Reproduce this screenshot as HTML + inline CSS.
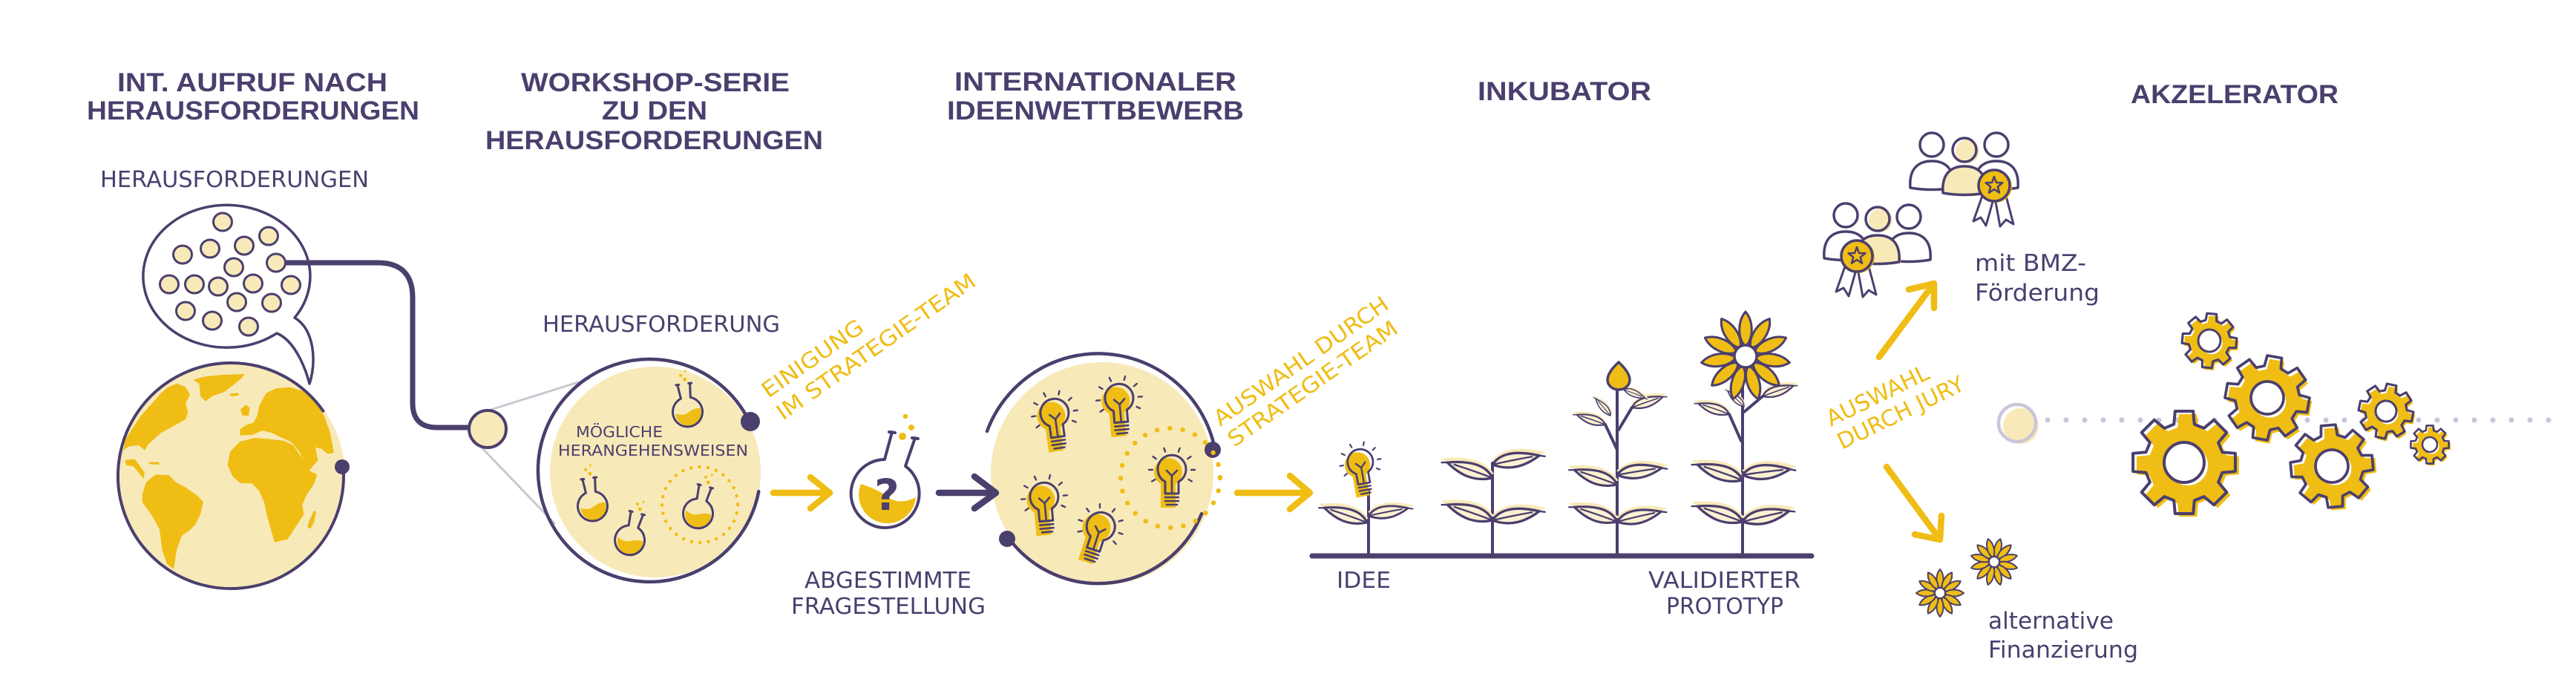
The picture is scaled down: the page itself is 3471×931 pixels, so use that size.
<!DOCTYPE html>
<html><head><meta charset="utf-8"><style>html,body{margin:0;padding:0;background:#fff}svg{display:block}</style></head><body>
<svg xmlns="http://www.w3.org/2000/svg" xmlns:xlink="http://www.w3.org/1999/xlink" width="3471" height="931" viewBox="0 0 3471 931">
<defs>
<path id="gear" d="M73.4,-19.7 L98.5,-17.4 L98.5,17.4 L73.4,19.7 L65.8,38 L81.9,57.4 L57.4,81.9 L38,65.8 L19.7,73.4 L17.4,98.5 L-17.4,98.5 L-19.7,73.4 L-38,65.8 L-57.4,81.9 L-81.9,57.4 L-65.8,38 L-73.4,19.7 L-98.5,17.4 L-98.5,-17.4 L-73.4,-19.7 L-65.8,-38 L-81.9,-57.4 L-57.4,-81.9 L-38,-65.8 L-19.7,-73.4 L-17.4,-98.5 L17.4,-98.5 L19.7,-73.4 L38,-65.8 L57.4,-81.9 L81.9,-57.4 L65.8,-38 Z"/>
<g id="bulb">
 <circle cx="-5" cy="3" r="19" fill="#efbd14"/>
 <rect x="-15" y="14" width="20" height="37" fill="#efbd14"/>
 <path d="M-9,16 A19 19 0 1 1 9,16 L9,32 L-9,32 Z" fill="none" stroke="#4b3f6e" stroke-width="3" stroke-linejoin="round"/>
 <path d="M0,31 L0,8 M0,8 L-7,1 M0,8 L7,1 M-9,37 L9,37 M-9,42 L9,42 M-7,47 L7,47" fill="none" stroke="#4b3f6e" stroke-width="2.6" stroke-linecap="round"/>
 <path d="M-26,0 L-31,0 M-21.3,-14.9 L-25.4,-17.8 M-8.9,-24.4 L-10.6,-29.1 M8.9,-24.4 L10.6,-29.1 M21.3,-14.9 L25.4,-17.8 M26,0 L31,0 M22.5,13 L26.8,15.5 M-22.5,13 L-26.8,15.5" stroke="#4b3f6e" stroke-width="2.4" stroke-linecap="round"/>
</g>
<g id="flask">
 <path d="M-17,0 Q-8,5 0,1 Q9,-4 17,-3 A17.3 17.3 0 1 1 -17,0 Z" fill="#efbd14"/>
 <path d="M-9,-38 L-7,-19 A20 20 0 1 0 6,-19 L8,-38 M-11,-38 L-7,-38 M6,-38 L10,-38" fill="none" stroke="#4b3f6e" stroke-width="3" stroke-linecap="round" stroke-linejoin="round"/>
 <circle cx="2" cy="-44" r="2.5" fill="#efbd14"/>
 <circle cx="-3" cy="-50" r="2" fill="#efbd14"/>
 <circle cx="4" cy="-55" r="1.5" fill="#efbd14"/>
</g>
<g id="leaf">
 <path d="M2,-6 C-10,-24 -32,-32 -72,-28 C-54,-10 -30,2 2,-6Z" fill="#f8e9b9"/>
 <path d="M0,0 C-8,-17 -28,-25 -64,-22 C-48,-6 -28,6 0,0Z" fill="#fbf1d2" stroke="#4b3f6e" stroke-width="3.5" stroke-linejoin="round"/>
 <path d="M0,0 Q-26,-10 -54,-19" fill="none" stroke="#4b3f6e" stroke-width="2.5" stroke-linecap="round"/>
 <path d="M-64,-22 L-72,-22" fill="none" stroke="#4b3f6e" stroke-width="2.5" stroke-linecap="round"/>
</g>
<path id="petal" d="M0,-13 C11,-24 11,-47 0,-60 C-11,-47 -11,-24 0,-13Z" fill="#efbd14" stroke="#4b3f6e" stroke-width="3" stroke-linejoin="round"/>
<path id="spetal" d="M0,-6 C6,-12 6,-25 0,-32 C-6,-25 -6,-12 0,-6Z" fill="#efbd14" stroke="#4b3f6e" stroke-width="2" stroke-linejoin="round"/>
<g id="person">
 <path d="M-29,58 C-31,32 -18,22 0,22 C18,22 31,32 29,58 Q0,63 -29,58Z" fill="#fff" stroke="#4b3f6e" stroke-width="3.5" stroke-linejoin="round"/>
 <circle r="16" fill="#fff" stroke="#4b3f6e" stroke-width="3.5"/>
</g>
<g id="personY">
 <path d="M-26,60 C-28,34 -15,24 3,24 C21,24 33,34 31,60 Q3,65 -26,60Z" fill="#f8e9b9"/>
 <circle cx="4" cy="2" r="16" fill="#f8e9b9"/>
 <path d="M-29,58 C-31,32 -18,22 0,22 C18,22 31,32 29,58 Q0,63 -29,58Z" fill="#f8e9b9" stroke="#4b3f6e" stroke-width="3.5" stroke-linejoin="round"/>
 <circle r="16" fill="none" stroke="#4b3f6e" stroke-width="3.5"/>
</g>
<g id="medal">
 <path d="M-16,14 L-28,48 L-18,43 L-11,54 L-2,22 Z M16,14 L26,52 L16,46 L8,55 L2,22 Z" fill="#fff" stroke="#4b3f6e" stroke-width="3" stroke-linejoin="round"/>
 <circle cx="2" cy="1" r="22" fill="#efbd14"/>
 <circle r="21" fill="#efbd14" stroke="#4b3f6e" stroke-width="3.5"/>
 <path d="M0,-12 L2.94,-4.05 L11.41,-3.71 L4.76,1.55 L7.05,9.71 L0,5 L-7.05,9.71 L-4.76,1.55 L-11.41,-3.71 L-2.94,-4.05 Z" fill="none" stroke="#4b3f6e" stroke-width="2.5" stroke-linejoin="round"/>
</g>
<g id="sflower">
 <use xlink:href="#spetal"/><use xlink:href="#spetal" transform="rotate(30)"/><use xlink:href="#spetal" transform="rotate(60)"/><use xlink:href="#spetal" transform="rotate(90)"/><use xlink:href="#spetal" transform="rotate(120)"/><use xlink:href="#spetal" transform="rotate(150)"/><use xlink:href="#spetal" transform="rotate(180)"/><use xlink:href="#spetal" transform="rotate(210)"/><use xlink:href="#spetal" transform="rotate(240)"/><use xlink:href="#spetal" transform="rotate(270)"/><use xlink:href="#spetal" transform="rotate(300)"/><use xlink:href="#spetal" transform="rotate(330)"/>
 <circle r="7" fill="#fff" stroke="#4b3f6e" stroke-width="2"/>
</g>
<clipPath id="globeclip"><circle cx="311" cy="641" r="151"/></clipPath>
</defs>

<!-- TITLES -->
<g font-family="'Liberation Sans', Arial, sans-serif" font-weight="bold" font-size="35" fill="#4b3f6e">
 <text x="158" y="123" textLength="364" lengthAdjust="spacingAndGlyphs">INT. AUFRUF NACH</text>
 <text x="117" y="161" textLength="448" lengthAdjust="spacingAndGlyphs">HERAUSFORDERUNGEN</text>
 <text x="702" y="123" textLength="362" lengthAdjust="spacingAndGlyphs">WORKSHOP-SERIE</text>
 <text x="811" y="161" textLength="142" lengthAdjust="spacingAndGlyphs">ZU DEN</text>
 <text x="654" y="201" textLength="455" lengthAdjust="spacingAndGlyphs">HERAUSFORDERUNGEN</text>
 <text x="1286" y="122" textLength="380" lengthAdjust="spacingAndGlyphs">INTERNATIONALER</text>
 <text x="1276" y="161" textLength="400" lengthAdjust="spacingAndGlyphs">IDEENWETTBEWERB</text>
 <text x="1991" y="135" textLength="234" lengthAdjust="spacingAndGlyphs">INKUBATOR</text>
 <text x="2871" y="139" textLength="280" lengthAdjust="spacingAndGlyphs">AKZELERATOR</text>
</g>

<!-- LABELS -->
<g font-family="'DejaVu Sans', 'Liberation Sans', sans-serif" font-size="30" fill="#4b3f6e">
 <text x="135" y="252" textLength="362" lengthAdjust="spacingAndGlyphs">HERAUSFORDERUNGEN</text>
 <text x="731" y="447" textLength="320" lengthAdjust="spacingAndGlyphs">HERAUSFORDERUNG</text>
 <text x="1084" y="792" textLength="225" lengthAdjust="spacingAndGlyphs">ABGESTIMMTE</text>
 <text x="1066" y="827" textLength="262" lengthAdjust="spacingAndGlyphs">FRAGESTELLUNG</text>
 <text x="1801" y="792" textLength="73" lengthAdjust="spacingAndGlyphs">IDEE</text>
 <text x="2221" y="792" textLength="205" lengthAdjust="spacingAndGlyphs">VALIDIERTER</text>
 <text x="2245" y="827" textLength="158" lengthAdjust="spacingAndGlyphs">PROTOTYP</text>
 <text x="2661" y="365" font-size="31" textLength="150" lengthAdjust="spacingAndGlyphs">mit BMZ-</text>
 <text x="2661" y="405" font-size="31" textLength="168" lengthAdjust="spacingAndGlyphs">Förderung</text>
 <text x="2679" y="847" font-size="31" textLength="169" lengthAdjust="spacingAndGlyphs">alternative</text>
 <text x="2679" y="886" font-size="31" textLength="202" lengthAdjust="spacingAndGlyphs">Finanzierung</text>
</g>

<!-- YELLOW ROTATED LABELS -->
<g font-family="'DejaVu Sans', 'Liberation Sans', sans-serif" font-size="29" fill="#efbd14">
 <text transform="translate(1035,537) rotate(-35)" textLength="160" lengthAdjust="spacingAndGlyphs">EINIGUNG</text>
 <text transform="translate(1055,567) rotate(-35)" textLength="320" lengthAdjust="spacingAndGlyphs">IM STRATEGIE-TEAM</text>
 <text transform="translate(1644,575) rotate(-35)" textLength="280" lengthAdjust="spacingAndGlyphs">AUSWAHL DURCH</text>
 <text transform="translate(1663,603) rotate(-35)" textLength="272" lengthAdjust="spacingAndGlyphs">STRATEGIE-TEAM</text>
 <text transform="translate(2467,575) rotate(-26)" font-size="30" textLength="150" lengthAdjust="spacingAndGlyphs">AUSWAHL</text>
 <text transform="translate(2482,606) rotate(-26)" font-size="30" textLength="186" lengthAdjust="spacingAndGlyphs">DURCH JURY</text>
</g>

<!-- SECTION 1: speech bubble + globe -->
<path d="M384,354 L509,354 Q556,354 556,401 L556,543 Q556,576 589,576 L640,576" fill="none" stroke="#4b3f6e" stroke-width="7" stroke-linecap="round"/>
<path d="M397,428 C425,445 426,490 417,517 C410,490 395,458 373,449 A112.5 96 0 1 1 397,428 Z" fill="#fff" stroke="#4b3f6e" stroke-width="3.5" stroke-linejoin="round"/>
<path d="M384,354 L440,354" stroke="#4b3f6e" stroke-width="7"/>
<g fill="#f8e9b9" stroke="#4b3f6e" stroke-width="3">
 <ellipse cx="300" cy="299" rx="12.5" ry="12"/><ellipse cx="362" cy="318" rx="12.5" ry="12"/>
 <ellipse cx="246" cy="343" rx="12.5" ry="12"/><ellipse cx="283" cy="335" rx="12.5" ry="12"/>
 <ellipse cx="329" cy="331" rx="12.5" ry="12"/><ellipse cx="372" cy="354" rx="12.5" ry="12"/>
 <ellipse cx="315" cy="360" rx="12.5" ry="12"/><ellipse cx="228" cy="383" rx="12.5" ry="12"/>
 <ellipse cx="262" cy="383" rx="12.5" ry="12"/><ellipse cx="294" cy="386" rx="12.5" ry="12"/>
 <ellipse cx="341" cy="382" rx="12.5" ry="12"/><ellipse cx="392" cy="384" rx="12.5" ry="12"/>
 <ellipse cx="319" cy="407" rx="12.5" ry="12"/><ellipse cx="366" cy="408" rx="12.5" ry="12"/>
 <ellipse cx="250" cy="419" rx="12.5" ry="12"/><ellipse cx="286" cy="432" rx="12.5" ry="12"/>
 <ellipse cx="335" cy="440" rx="12.5" ry="12"/>
</g>
<circle cx="313" cy="641" r="152" fill="#f8e9b9"/>
<g clip-path="url(#globeclip)">
<g transform="translate(150,480) scale(0.3333)" fill="#efbd14">
 <path d="M40,440 L50,380 L70,365 L110,360 L135,380 L150,355 L200,310 L255,280 L300,255 L310,225 L300,190 L318,155 L300,125 L265,110 L230,125 L200,150 L165,190 L120,240 L80,300 L55,340 Z"/>
 <path d="M55,420 L95,415 L120,450 L135,470 L130,495 L110,470 L90,445 L60,440 Z"/>
 <path d="M150,428 L195,428 L192,438 L155,436 Z"/>
 <path d="M330,95 L380,82 L450,75 L540,72 L525,90 L495,115 L455,145 L410,160 L380,182 L360,160 L355,110 Z"/>
 <path d="M478,152 L510,148 L518,158 L485,162 Z"/>
 <path d="M520,320 L520,295 L545,278 L575,268 L590,240 L598,200 L625,150 L665,130 L720,125 L775,140 L820,180 L860,240 L885,310 L900,390 L875,395 L850,375 L825,368 L835,420 L800,462 L785,440 L760,385 L725,345 L690,330 L650,310 L610,300 L570,318 Z"/>
 <path d="M522,215 L545,195 L560,210 L555,240 L530,240 Z"/>
 <path d="M470,440 L480,385 L520,345 L580,330 L640,335 L700,342 L735,360 L770,410 L800,462 L832,478 L820,515 L790,560 L772,600 L778,640 L745,690 L712,740 L660,752 L645,700 L628,640 L618,590 L598,545 L570,515 L520,512 L490,485 Z"/>
 <path d="M800,665 L818,625 L828,628 L820,670 L805,698 L793,690 Z"/>
 <path d="M125,560 L140,510 L178,478 L232,480 L262,510 L300,530 L350,565 L372,590 L360,640 L340,680 L315,705 L285,725 L265,780 L252,860 L225,840 L205,780 L195,700 L165,645 L125,590 Z"/>
</g>
</g>
<path d="M462.5,628.8 A152 152 0 1 1 435.5,553.8" fill="none" stroke="#4b3f6e" stroke-width="4" stroke-linecap="round"/>
<circle cx="461" cy="629" r="10" fill="#4b3f6e"/>

<!-- SECTION 2: workshop -->
<path d="M658,553 L795,510 M649,603 L748,706" stroke="#c9c7d1" stroke-width="3"/>
<circle cx="657" cy="578" r="25" fill="#f8e9b9" stroke="#4b3f6e" stroke-width="4"/>
<circle cx="883" cy="636" r="142" fill="#f8e9b9"/>
<path d="M1022.3,662.1 A150 150 0 1 1 1010.2,569" fill="none" stroke="#4b3f6e" stroke-width="4.5" stroke-linecap="round"/>
<circle cx="1011" cy="568" r="13" fill="#4b3f6e"/>
<g font-family="'DejaVu Sans', 'Liberation Sans', sans-serif" font-size="20.5" fill="#4b3f6e">
 <text x="776" y="589" textLength="117" lengthAdjust="spacingAndGlyphs">MÖGLICHE</text>
 <text x="752" y="614" textLength="256" lengthAdjust="spacingAndGlyphs">HERANGEHENSWEISEN</text>
</g>
<circle cx="943" cy="680" r="51" fill="none" stroke="#efbd14" stroke-width="4.5" stroke-linecap="round" stroke-dasharray="0 11.4"/>
<use xlink:href="#flask" transform="translate(927,555) rotate(-8)"/>
<use xlink:href="#flask" transform="translate(799,682) rotate(-8)"/>
<use xlink:href="#flask" transform="translate(849,728) rotate(15)"/>
<use xlink:href="#flask" transform="translate(941,692) rotate(15)"/>

<!-- arrow 1 + question flask -->
<path d="M1042,664 L1118,664 M1092,643 L1118,664 L1092,685" fill="none" stroke="#efbd14" stroke-width="8.5" stroke-linecap="round" stroke-linejoin="round"/>
<path d="M1160,652 Q1185,660 1200,672 Q1215,680 1234,670 A38.5 38.5 0 1 1 1160,652 Z" fill="#efbd14"/>
<path d="M1202,582 L1192,619 A46 46 0 1 0 1220,628 L1233,590 M1198,582 L1206,583 M1229,590 L1237,591" fill="none" stroke="#4b3f6e" stroke-width="4" stroke-linecap="round" stroke-linejoin="round"/>
<circle cx="1216" cy="588" r="5" fill="#efbd14"/>
<circle cx="1228" cy="576" r="4" fill="#efbd14"/>
<circle cx="1220" cy="561" r="3.2" fill="#efbd14"/>
<text x="1195" y="687" text-anchor="middle" font-family="'DejaVu Sans', sans-serif" font-weight="bold" font-size="58" fill="#4b3f6e">?</text>

<!-- SECTION 3: ideenwettbewerb -->
<circle cx="1485" cy="638" r="150" fill="#f8e9b9"/>
<path d="M1330,581 A160 160 0 0 1 1636.5,602.7" fill="none" stroke="#4b3f6e" stroke-width="4.5" stroke-linecap="round"/>
<path d="M1619.1,692.2 A150 150 0 0 1 1358.6,724.2" fill="none" stroke="#4b3f6e" stroke-width="4.5" stroke-linecap="round"/>
<circle cx="1634" cy="606" r="11" fill="#4b3f6e"/>
<circle cx="1357" cy="726" r="11" fill="#4b3f6e"/>
<path d="M1265,664 L1342,664 M1313,642 L1342,664 L1313,685" fill="none" stroke="#4b3f6e" stroke-width="8.5" stroke-linecap="round" stroke-linejoin="round"/>
<circle cx="1577" cy="644" r="67" fill="none" stroke="#efbd14" stroke-width="6.5" stroke-linecap="round" stroke-dasharray="0 17.5"/>
<use xlink:href="#bulb" transform="translate(1421,557) rotate(-8)"/>
<use xlink:href="#bulb" transform="translate(1508,537) rotate(-5)"/>
<use xlink:href="#bulb" transform="translate(1407,670) rotate(-5)"/>
<use xlink:href="#bulb" transform="translate(1483,710) rotate(18)"/>
<use xlink:href="#bulb" transform="translate(1579,633)"/>
<path d="M1667,664 L1765,664 M1738,641 L1765,664 L1738,686" fill="none" stroke="#efbd14" stroke-width="8.5" stroke-linecap="round" stroke-linejoin="round"/>

<!-- SECTION 4: inkubator -->
<g fill="none" stroke="#4b3f6e" stroke-width="4" stroke-linecap="round">
 <path d="M1844,749 L1844,662"/>
 <path d="M2011,749 L2011,624"/>
 <path d="M2179,749 L2179,517 M2179,606 L2163,572 M2181,579 L2199,549"/>
 <path d="M2348,749 L2348,494 M2346,594 L2330,558 M2350,555 L2375,534"/>
</g>
<!-- plant 1 -->
<use xlink:href="#leaf" transform="translate(1842,704) scale(0.9)"/>
<use xlink:href="#leaf" transform="translate(1844,695) scale(-0.8,0.8) rotate(-8)"/>
<use xlink:href="#bulb" transform="translate(1833,623) rotate(-10) scale(0.9)"/>
<!-- plant 2 -->
<use xlink:href="#leaf" transform="translate(2011,701) scale(0.95)"/>
<use xlink:href="#leaf" transform="translate(2011,701) scale(-0.95,0.95) rotate(-8)"/>
<use xlink:href="#leaf" transform="translate(2011,644) scale(0.95)"/>
<use xlink:href="#leaf" transform="translate(2011,626) scale(-0.95,0.95) rotate(-8)"/>
<!-- plant 3 -->
<use xlink:href="#leaf" transform="translate(2179,703) scale(0.9)"/>
<use xlink:href="#leaf" transform="translate(2179,703) scale(-0.9,0.9) rotate(-6)"/>
<use xlink:href="#leaf" transform="translate(2179,653) scale(0.9)"/>
<use xlink:href="#leaf" transform="translate(2179,640) scale(-0.9,0.9) rotate(-10)"/>
<use xlink:href="#leaf" transform="translate(2163,572) scale(0.6)"/>
<use xlink:href="#leaf" transform="translate(2199,549) scale(-0.65,0.65)"/>
<use xlink:href="#leaf" transform="translate(2170,560) rotate(30) scale(0.45)"/>
<use xlink:href="#leaf" transform="translate(2188,525) scale(-0.45,0.45) rotate(-40)"/>
<path d="M2181,488 C2192,498 2196,506 2196,512 A15 13 0 0 1 2166,512 C2166,506 2170,498 2181,488 Z" fill="#efbd14" stroke="#4b3f6e" stroke-width="3.5" stroke-linejoin="round"/>
<!-- plant 4 -->
<use xlink:href="#leaf" transform="translate(2348,703) scale(0.95)"/>
<use xlink:href="#leaf" transform="translate(2348,703) scale(-0.95,0.95) rotate(-6)"/>
<use xlink:href="#leaf" transform="translate(2348,647) scale(0.95)"/>
<use xlink:href="#leaf" transform="translate(2348,640) scale(-0.95,0.95) rotate(-12)"/>
<use xlink:href="#leaf" transform="translate(2330,558) scale(0.65)"/>
<use xlink:href="#leaf" transform="translate(2375,534) scale(-0.65,0.65)"/>
<use xlink:href="#leaf" transform="translate(2350,548) rotate(25) scale(0.45)"/>
<g transform="translate(2352,480)">
 <use xlink:href="#petal"/><use xlink:href="#petal" transform="rotate(32.7)"/><use xlink:href="#petal" transform="rotate(65.5)"/><use xlink:href="#petal" transform="rotate(98.2)"/><use xlink:href="#petal" transform="rotate(130.9)"/><use xlink:href="#petal" transform="rotate(163.6)"/><use xlink:href="#petal" transform="rotate(196.4)"/><use xlink:href="#petal" transform="rotate(229.1)"/><use xlink:href="#petal" transform="rotate(261.8)"/><use xlink:href="#petal" transform="rotate(294.5)"/><use xlink:href="#petal" transform="rotate(327.3)"/>
 <circle r="15" fill="#fff" stroke="#4b3f6e" stroke-width="3.5"/>
</g>
<path d="M1768,749 L2441,749" stroke="#4b3f6e" stroke-width="7" stroke-linecap="round"/>

<!-- SECTION 5: jury -->
<use xlink:href="#person" transform="translate(2487,290)"/>
<use xlink:href="#person" transform="translate(2572,292)"/>
<use xlink:href="#personY" transform="translate(2530,295)"/>
<use xlink:href="#medal" transform="translate(2502,345)"/>
<use xlink:href="#person" transform="translate(2603,195)"/>
<use xlink:href="#person" transform="translate(2690,195)"/>
<use xlink:href="#personY" transform="translate(2647,202)"/>
<use xlink:href="#medal" transform="translate(2687,250)"/>
<path d="M2532,481 L2605,383 M2572,390 L2606,382 L2606,415" fill="none" stroke="#efbd14" stroke-width="8.5" stroke-linecap="round" stroke-linejoin="round"/>
<path d="M2542,629 L2614,727 M2580,720 L2614,727 L2616,695" fill="none" stroke="#efbd14" stroke-width="8.5" stroke-linecap="round" stroke-linejoin="round"/>
<use xlink:href="#sflower" transform="translate(2614,799)"/>
<use xlink:href="#sflower" transform="translate(2687,757) rotate(15)"/>

<!-- SECTION 6: akzelerator -->
<path d="M2759,566 L3455,566" stroke="#c9c5d8" stroke-width="7" stroke-linecap="round" stroke-dasharray="0 25"/>
<circle cx="2723" cy="574" r="24" fill="#f8e9b9"/>
<circle cx="2718" cy="570" r="25" fill="none" stroke="#cac6d8" stroke-width="4.5"/>

<g stroke-linejoin="round">
 <g transform="translate(2977,459) rotate(5)">
  <use xlink:href="#gear" transform="translate(3,3) scale(0.37)" fill="#efbd14"/>
  <circle cx="3" cy="3" r="15" fill="#fff"/>
  <use xlink:href="#gear" transform="scale(0.37)" fill="none" stroke="#4b3f6e" stroke-width="8.5"/>
  <circle r="15" fill="#fff" stroke="#4b3f6e" stroke-width="3"/>
 </g>
 <g transform="translate(3055,536) rotate(10)">
  <use xlink:href="#gear" transform="translate(4,4) scale(0.57)" fill="#efbd14"/>
  <circle cx="4" cy="4" r="22" fill="#fff"/>
  <use xlink:href="#gear" transform="scale(0.57)" fill="none" stroke="#4b3f6e" stroke-width="6.5"/>
  <circle r="22" fill="#fff" stroke="#4b3f6e" stroke-width="3.7"/>
 </g>
 <g transform="translate(2943,623)">
  <use xlink:href="#gear" transform="translate(5,4) scale(0.70)" fill="#efbd14"/>
  <circle cx="5" cy="4" r="27" fill="#fff"/>
  <use xlink:href="#gear" transform="scale(0.70)" fill="none" stroke="#4b3f6e" stroke-width="5.7"/>
  <circle r="27" fill="#fff" stroke="#4b3f6e" stroke-width="4"/>
 </g>
 <g transform="translate(3142,628) rotate(-5)">
  <use xlink:href="#gear" transform="translate(4,4) scale(0.56)" fill="#efbd14"/>
  <circle cx="4" cy="4" r="22" fill="#fff"/>
  <use xlink:href="#gear" transform="scale(0.56)" fill="none" stroke="#4b3f6e" stroke-width="6.6"/>
  <circle r="22" fill="#fff" stroke="#4b3f6e" stroke-width="3.7"/>
 </g>
 <g transform="translate(3215,554) rotate(12)">
  <use xlink:href="#gear" transform="translate(3,3) scale(0.37)" fill="#efbd14"/>
  <circle cx="3" cy="3" r="14" fill="#fff"/>
  <use xlink:href="#gear" transform="scale(0.37)" fill="none" stroke="#4b3f6e" stroke-width="8.5"/>
  <circle r="14" fill="#fff" stroke="#4b3f6e" stroke-width="3"/>
 </g>
 <g transform="translate(3274,599)">
  <use xlink:href="#gear" transform="translate(2.5,2.5) scale(0.26)" fill="#efbd14"/>
  <circle cx="2.5" cy="2.5" r="10" fill="#fff"/>
  <use xlink:href="#gear" transform="scale(0.26)" fill="none" stroke="#4b3f6e" stroke-width="10"/>
  <circle r="10" fill="#fff" stroke="#4b3f6e" stroke-width="2.6"/>
 </g>
</g>
</svg>
</body></html>
